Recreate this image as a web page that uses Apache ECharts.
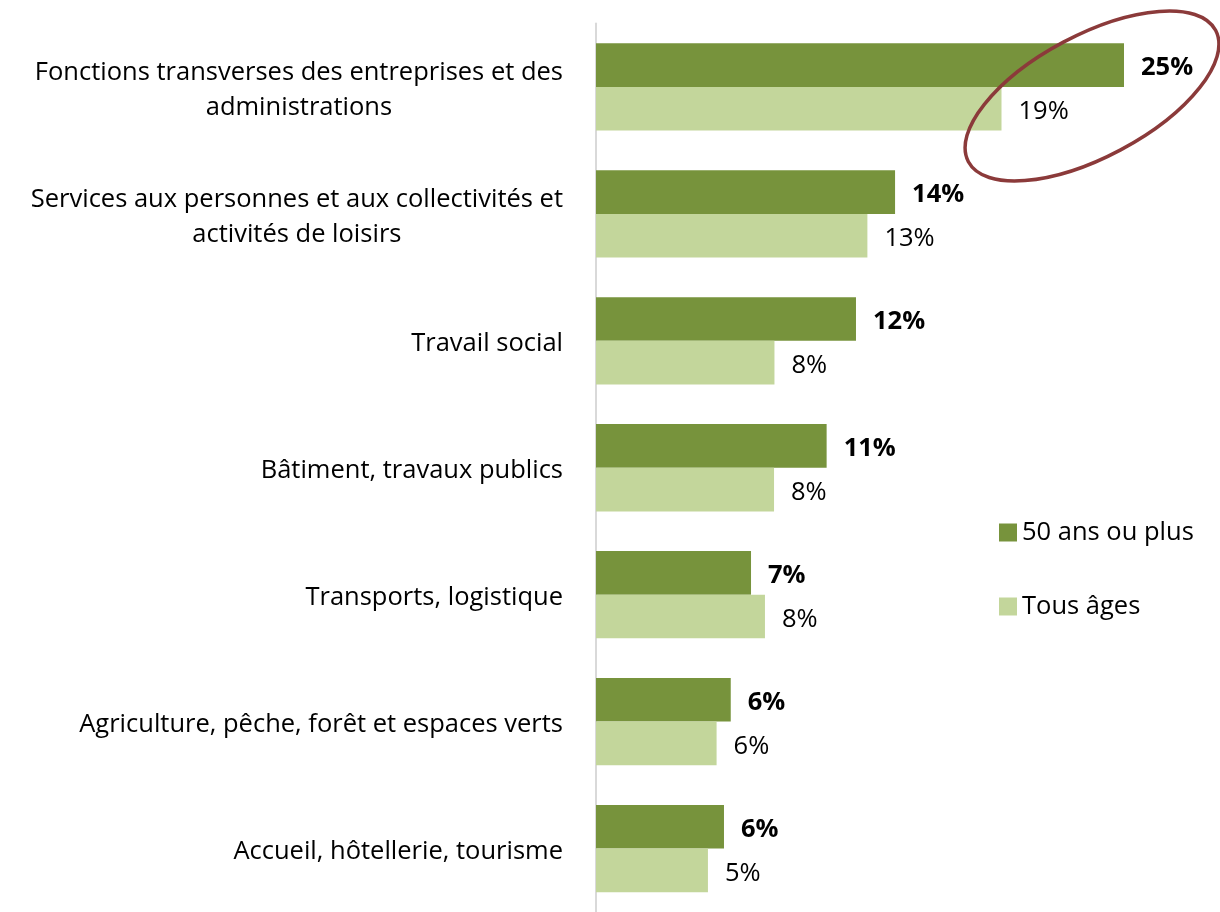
<!DOCTYPE html>
<html>
<head>
<meta charset="utf-8">
<script src="https://cdn.jsdelivr.net/npm/echarts@6/dist/echarts.min.js"></script>
<style>html,body{margin:0;padding:0;background:#fff}#c{width:1220px;height:912px}</style>
</head>
<body>
<div id="c"></div>
<script>
const categories = [
  "Fonctions transverses des entreprises et des\nadministrations",
  "Services aux personnes et aux collectivités et\nactivités de loisirs",
  "Travail social",
  "Bâtiment, travaux publics",
  "Transports, logistique",
  "Agriculture, pêche, forêt et espaces verts",
  "Accueil, hôtellerie, tourisme"
];
const seriesNames = ["50 ans ou plus", "Tous âges"];
const senior = [25.0, 14.16, 12.31, 10.92, 7.34, 6.38, 6.06];
const allAges = [19.2, 12.85, 8.45, 8.43, 8.0, 5.71, 5.3];

const FONT = "Open Sans";
const FS = 25.5;
const chart = echarts.init(document.getElementById('c'), null, {renderer: 'canvas'});
chart.setOption({
  animation: false,
  backgroundColor: '#fff',
  grid: {left: 596, top: 23.5, width: 528, height: 896, containLabel: false},
  xAxis: {
    type: 'value', min: 0, max: 25, show: false,
    splitLine: {show: false}
  },
  yAxis: {
    type: 'category', inverse: true, data: categories,
    axisLine: {show: true, lineStyle: {color: '#d9d9d9', width: 2}},
    axisTick: {show: false},
    axisLabel: {
      margin: 33, color: '#000', fontFamily: FONT, fontSize: FS, align: 'right',
      padding: [6, 0, 0, 0],
      formatter: function (v) {
        return v.split('\n').map(function (l) { return '{a|' + l + '}'; }).join('\n');
      },
      rich: {a: {align: 'center', fontFamily: FONT, fontSize: FS, color: '#000', lineHeight: 35}}
    }
  },
  legend: {
    orient: 'vertical', left: 994, top: 514,
    itemWidth: 18, itemHeight: 18, itemGap: 47,
    icon: 'rect',
    textStyle: {fontFamily: FONT, fontSize: FS, color: '#000', lineHeight: 27},
    data: seriesNames
  },
  series: [
    {
      name: seriesNames[0], type: 'bar', data: senior,
      barCategoryGap: '31.25%', barGap: '0%',
      itemStyle: {color: '#77933C'},
      label: {
        show: true, position: 'right', distance: 17, offset: [0, 3],
        fontFamily: FONT, fontSize: FS, fontWeight: 'bold', color: '#000',
        formatter: function (p) { return Math.round(p.value) + '%'; }
      }
    },
    {
      name: seriesNames[1], type: 'bar', data: allAges,
      barCategoryGap: '31.25%', barGap: '0%',
      itemStyle: {color: '#C3D69B'},
      label: {
        show: true, position: 'right', distance: 17, offset: [0, 3],
        fontFamily: FONT, fontSize: FS, color: '#000',
        formatter: function (p) { return Math.round(p.value) + '%'; }
      }
    }
  ],
  graphic: [{
    type: 'ellipse',
    x: 1092, y: 96, rotation: 28 * Math.PI / 180,
    shape: {cx: 0, cy: 0, rx: 140, ry: 61},
    style: {fill: 'none', stroke: '#8B3A3A', lineWidth: 3.5},
    z: 100
  }]
});
</script>
</body>
</html>
